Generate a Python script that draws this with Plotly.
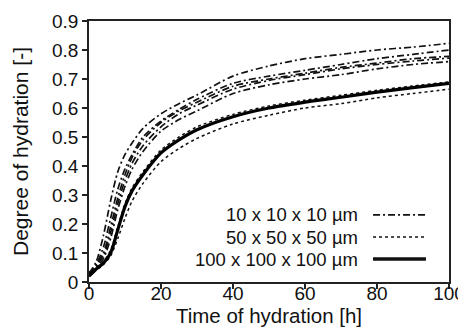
import plotly.graph_objects as go

# Time of hydration [h]
t = [0, 2, 4, 6, 8, 10, 12, 15, 20, 25, 30, 40, 50, 60, 70, 80, 90, 100]

# 10 x 10 x 10 um realisations (dash-dot)
dd_a = [0.03, 0.07, 0.16, 0.28, 0.38, 0.44, 0.48, 0.53, 0.58, 0.615, 0.645, 0.71, 0.745, 0.77, 0.785, 0.80, 0.81, 0.823]
dd_b = [0.03, 0.06, 0.12, 0.22, 0.32, 0.39, 0.44, 0.50, 0.555, 0.595, 0.63, 0.685, 0.71, 0.73, 0.75, 0.77, 0.785, 0.80]
dd_c = [0.03, 0.06, 0.10, 0.19, 0.29, 0.37, 0.43, 0.49, 0.55, 0.59, 0.62, 0.675, 0.70, 0.72, 0.74, 0.755, 0.77, 0.778]
dd_d = [0.03, 0.055, 0.09, 0.17, 0.27, 0.35, 0.41, 0.47, 0.535, 0.58, 0.61, 0.665, 0.695, 0.715, 0.735, 0.75, 0.762, 0.772]
dd_e = [0.03, 0.05, 0.08, 0.15, 0.25, 0.33, 0.39, 0.45, 0.52, 0.56, 0.59, 0.65, 0.68, 0.70, 0.715, 0.735, 0.75, 0.76]

# 50 x 50 x 50 um realisations (dotted)
dot_a = [0.02, 0.05, 0.07, 0.11, 0.19, 0.27, 0.325, 0.38, 0.455, 0.50, 0.535, 0.578, 0.607, 0.627, 0.644, 0.661, 0.676, 0.69]
dot_b = [0.02, 0.04, 0.06, 0.09, 0.15, 0.22, 0.28, 0.34, 0.415, 0.46, 0.495, 0.545, 0.575, 0.60, 0.615, 0.635, 0.65, 0.665]

# 100 x 100 x 100 um (solid)
solid = [0.02, 0.045, 0.065, 0.10, 0.18, 0.26, 0.315, 0.37, 0.445, 0.49, 0.525, 0.57, 0.60, 0.62, 0.637, 0.655, 0.67, 0.685]

legend_labels = ["10 x 10 x 10 \u00b5m", "50 x 50 x 50 \u00b5m", "100 x 100 x 100 \u00b5m"]

x_ticks = [0, 20, 40, 60, 80, 100]
y_ticks = [0, 0.1, 0.2, 0.3, 0.4, 0.5, 0.6, 0.7, 0.8, 0.9]
y_tick_text = ["0", "0.1", "0.2", "0.3", "0.4", "0.5", "0.6", "0.7", "0.8", "0.9"]

FONT = "Liberation Sans, Arial, sans-serif"
DASHDOT = "7px,3px,2px,3px"

fig = go.Figure()
for ys in [dd_a, dd_b, dd_c, dd_d, dd_e]:
    fig.add_trace(go.Scatter(x=t, y=ys, mode="lines", line=dict(color="#111", width=1.7, dash=DASHDOT, shape="spline", smoothing=0.8), showlegend=False))
for ys in [dot_a, dot_b]:
    fig.add_trace(go.Scatter(x=t, y=ys, mode="lines", line=dict(color="#111", width=1.5, dash="dot", shape="spline", smoothing=0.8), showlegend=False))
fig.add_trace(go.Scatter(x=t, y=solid, mode="lines", line=dict(color="#000", width=3.2, shape="spline", smoothing=0.8), showlegend=False))

# custom legend (text right, line sample to its right)
leg_y = [0.257, 0.172, 0.088]
leg_dash = [DASHDOT, "dot", "solid"]
leg_w = [1.7, 1.5, 3.4]
for lab, yy, dsh, w in zip(legend_labels, leg_y, leg_dash, leg_w):
    fig.add_annotation(x=0.753, y=yy, xref="paper", yref="paper", text=lab, showarrow=False,
                       xanchor="right", yanchor="middle", font=dict(size=18.5, color="#111", family=FONT))
    fig.add_shape(type="line", xref="paper", yref="paper", x0=0.789, x1=0.936, y0=yy, y1=yy,
                  line=dict(color="#111", width=w, dash=dsh))

axis_common = dict(showline=True, linecolor="#222", linewidth=1.5, mirror=True, ticks="outside",
                   ticklen=5, tickwidth=1.5, tickcolor="#222", showgrid=False, zeroline=False,
                   automargin=True, tickfont=dict(size=19, color="#111", family=FONT))
fig.update_xaxes(range=[0, 100], tickvals=x_ticks, ticklabelstandoff=-12,
                 title=dict(text="Time of hydration [h]", font=dict(size=20.5, color="#111", family=FONT), standoff=0), **axis_common)
fig.update_yaxes(range=[0, 0.9], tickvals=y_ticks, ticktext=y_tick_text,
                 title=dict(text="Degree of hydration [-]", font=dict(size=21, color="#111", family=FONT), standoff=18), **axis_common)

fig.update_layout(width=466, height=333, margin=dict(l=81, r=25, t=13, b=59, autoexpand=False),
                  plot_bgcolor="white", paper_bgcolor="white", font=dict(family=FONT))
fig.write_html("out.html")
